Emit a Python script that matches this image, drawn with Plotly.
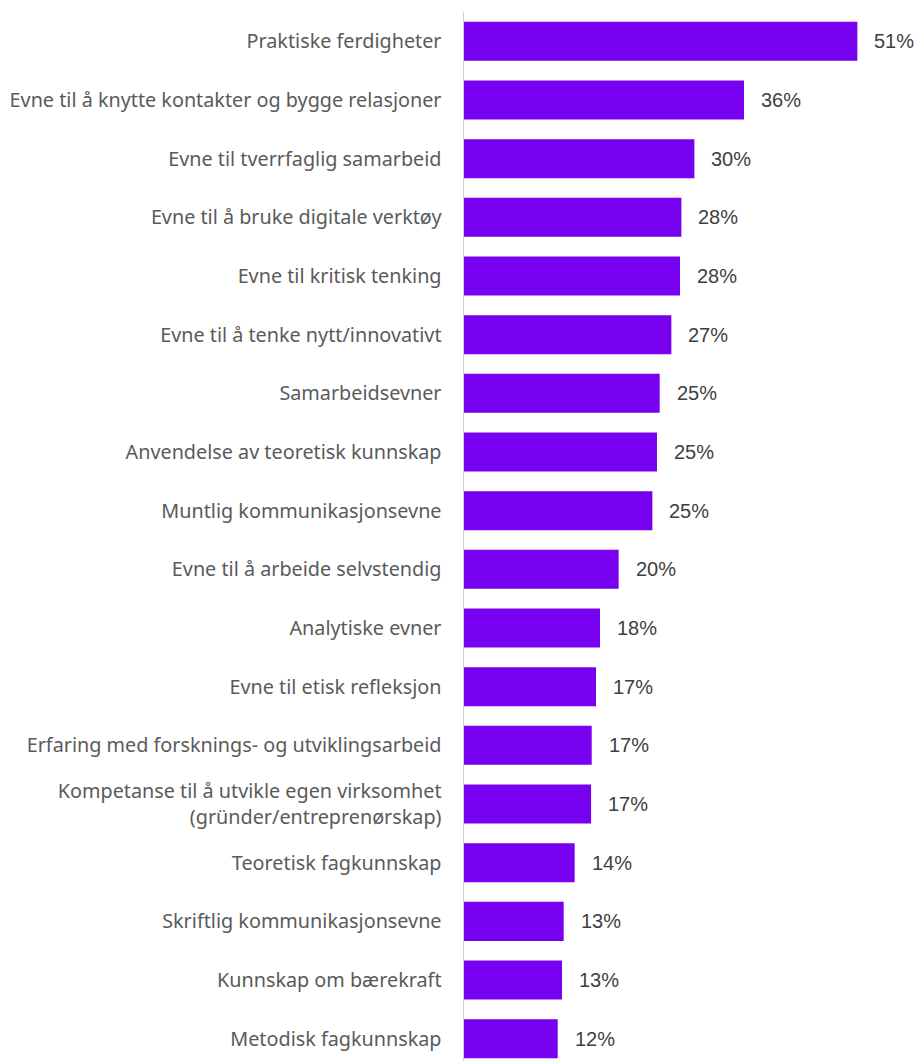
import plotly.graph_objects as go

categories = [
    "Praktiske ferdigheter",
    "Evne til å knytte kontakter og bygge relasjoner",
    "Evne til tverrfaglig samarbeid",
    "Evne til å bruke digitale verktøy",
    "Evne til kritisk tenking",
    "Evne til å tenke nytt/innovativt",
    "Samarbeidsevner",
    "Anvendelse av teoretisk kunnskap",
    "Muntlig kommunikasjonsevne",
    "Evne til å arbeide selvstendig",
    "Analytiske evner",
    "Evne til etisk refleksjon",
    "Erfaring med forsknings- og utviklingsarbeid",
    "Kompetanse til å utvikle egen virksomhet<br>(gründer/entreprenørskap)",
    "Teoretisk fagkunnskap",
    "Skriftlig kommunikasjonsevne",
    "Kunnskap om bærekraft",
    "Metodisk fagkunnskap",
]
values = [51.22, 36.46, 30.0, 28.31, 28.13, 27.0, 25.48, 25.13, 24.53,
          20.14, 17.71, 17.19, 16.63, 16.55, 14.41, 12.98, 12.76, 12.2]
labels = ["51%", "36%", "30%", "28%", "28%", "27%", "25%", "25%", "25%",
          "20%", "18%", "17%", "17%", "17%", "14%", "13%", "13%", "12%"]

BAR_COLOR = "#7700EE"

fig = go.Figure()
fig.add_trace(go.Bar(
    x=values,
    y=categories,
    orientation="h",
    marker=dict(color=BAR_COLOR, line=dict(width=0)),
    hoverinfo="skip",
))

for c, v, t in zip(categories, values, labels):
    fig.add_annotation(
        x=v, y=c, text=t, showarrow=False,
        xanchor="left", yanchor="middle", xshift=15,
        font=dict(family="Liberation Sans", size=20, color="#404040"),
    )

fig.update_layout(
    width=919, height=1061,
    margin=dict(l=464, r=0, t=12, b=0),
    paper_bgcolor="white", plot_bgcolor="white",
    bargap=0.335,
    showlegend=False,
    xaxis=dict(range=[0, 59.25], visible=False, fixedrange=True),
    yaxis=dict(
        type="category",
        categoryorder="array", categoryarray=categories,
        range=[17.38, -0.5],
        showline=True, linecolor="#D0D0D0", linewidth=1.5,
        showgrid=False, zeroline=False, fixedrange=True,
        ticks="", ticklabelstandoff=17,
        tickfont=dict(family="Noto Sans", size=19.8, color="#5a5a5a"),
    ),
)

fig.write_html(
    "out.html",
    config={"displayModeBar": False, "staticPlot": True},
    post_script="document.body.style.margin='0';document.body.style.padding='0';",
)
